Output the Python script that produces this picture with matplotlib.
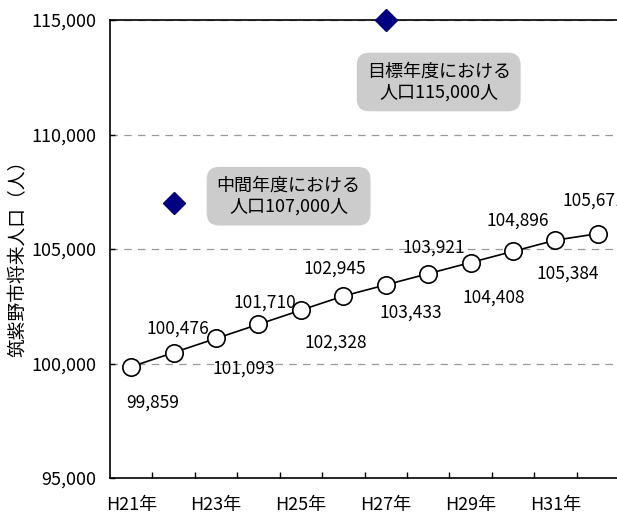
import numpy as np
import matplotlib.pyplot as plt
from matplotlib.ticker import FuncFormatter

plt.rcParams['font.family'] = ['Noto Sans CJK JP', 'DejaVu Sans']

# data
years = ['H21年', 'H22年', 'H23年', 'H24年', 'H25年', 'H26年',
         'H27年', 'H28年', 'H29年', 'H30年', 'H31年', 'H32年']
population = [99859, 100476, 101093, 101710, 102328, 102945,
              103433, 103921, 104408, 104896, 105384, 105671]
target_idx = [1, 6]
target_pop = [107000, 115000]
target_text = ['中間年度における\n人口107,000人', '目標年度における\n人口115,000人']

# label offsets in pixels (right, up) so labels alternate below/above
label_off = [(21, -36), (4, 24), (28, -30), (6, 22), (35, -32), (-8, 27),
             (25, -28), (6, 26), (23, -35), (5, 31), (12, -33), (-4, 33)]

fig = plt.figure(figsize=(6.17, 5.19), dpi=100)
ax = fig.add_axes([110 / 617, 41 / 519, 509 / 617, 458 / 519])

x = np.arange(len(years))
ax.plot(x, population, color='black', lw=1.2, marker='o', ms=12.5,
        mfc='white', mec='black', mew=1.2, zorder=3)
ax.plot(target_idx, target_pop, ls='none', marker='D', ms=11,
        color='#000080', zorder=4, clip_on=False)

for xi, v, off in zip(x, population, label_off):
    ax.annotate(f'{v:,}', (xi, v), xytext=off, textcoords='offset pixels',
                ha='center', va='center', fontsize=12.5)

box = dict(boxstyle='round,pad=0.55,rounding_size=0.7', fc='#cccccc', ec='none')
ax.annotate(target_text[0], (target_idx[0], target_pop[0]), xytext=(115, 7),
            textcoords='offset pixels', ha='center', va='center',
            fontsize=13, bbox=box, linespacing=1.2)
ax.annotate(target_text[1], (target_idx[1], target_pop[1]), xytext=(53, -62),
            textcoords='offset pixels', ha='center', va='center',
            fontsize=13, bbox=box, linespacing=1.2)

ax.set_xlim(-0.5, len(years) - 0.5)
ax.set_ylim(95000, 115000)
ax.set_yticks([95000, 100000, 105000, 110000, 115000])
ax.yaxis.set_major_formatter(FuncFormatter(lambda v, p: f'{int(v):,}'))
ax.tick_params(axis='y', direction='in', length=3.6, width=1, pad=10, labelsize=13)

ax.set_xticks(x[::2])
ax.set_xticklabels(years[::2])
ax.set_xticks(np.arange(0.5, len(years) - 1, 1), minor=True)
ax.tick_params(axis='x', which='major', length=0, pad=13, labelsize=13)
ax.tick_params(axis='x', which='minor', direction='in', length=4.5, width=1)

ax.grid(axis='y', ls=(0, (6, 5)), color='#999999', lw=0.9)
for s in ax.spines.values():
    s.set_linewidth(1.2)

ax.set_ylabel('筑紫野市将来人口（人）', fontsize=13.5)
ax.yaxis.label.set_va('center')
ax.yaxis.set_label_coords(-0.181, 0.49)

fig.savefig('out.png', dpi=100)
